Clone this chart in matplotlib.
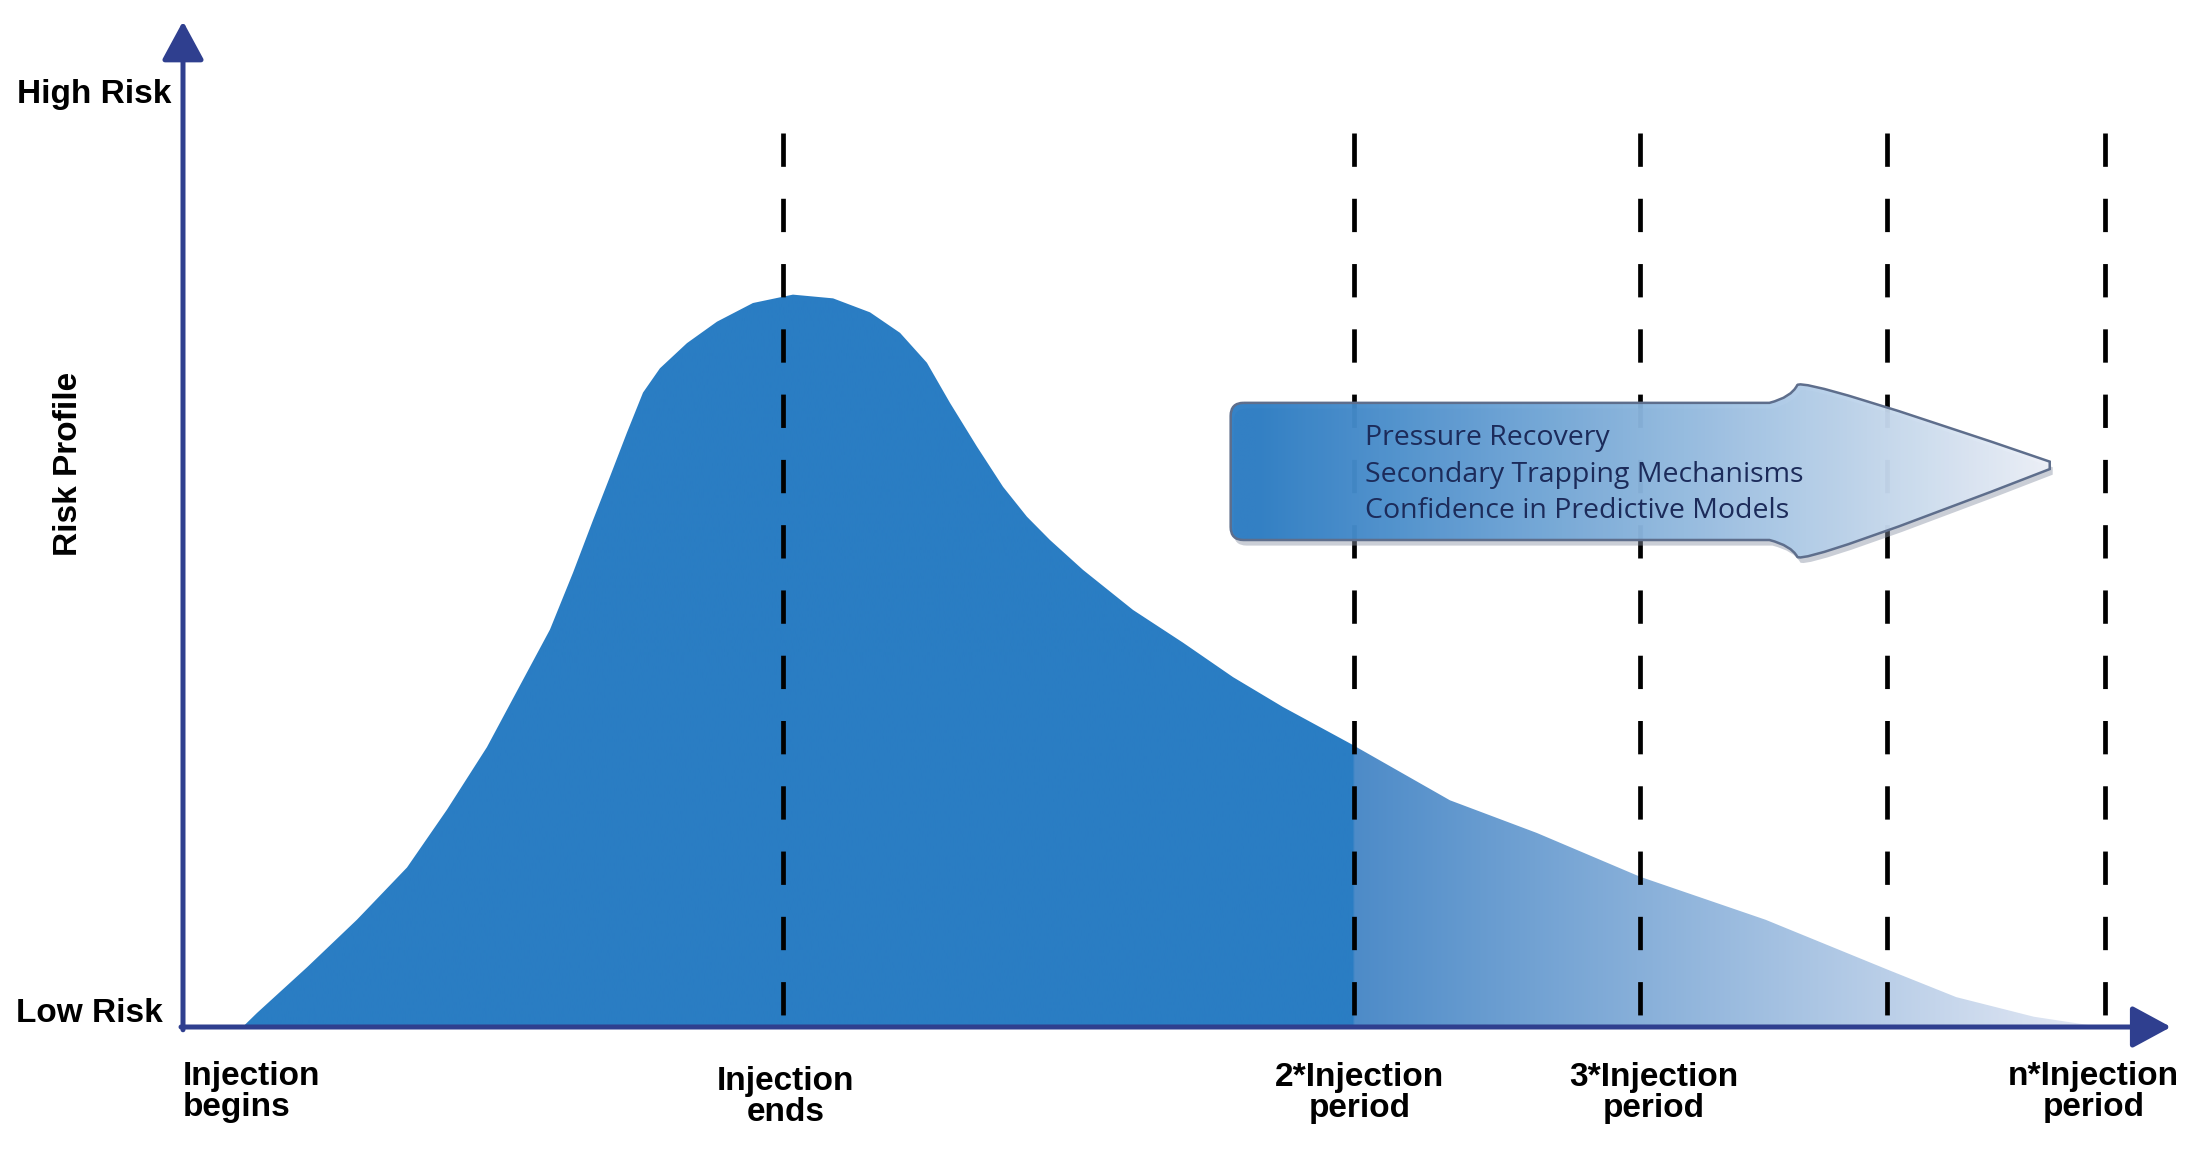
import numpy as np
import matplotlib
matplotlib.use("Agg")
import matplotlib.pyplot as plt
from matplotlib.path import Path
from matplotlib.patches import PathPatch, Polygon
from matplotlib.colors import to_rgb
from matplotlib.transforms import Affine2D

plt.rcParams["lines.scale_dashes"] = False

# ---------------------------------------------------------------- data
# time axis: 0 = injection begins, ~3 = injection ends (schematic, not linear)
curve_t = [0.30, 0.372, 0.624, 0.875, 1.127, 1.328, 1.529, 1.710, 1.846, 1.962, 2.062,
           2.148, 2.233, 2.314, 2.399, 2.535, 2.686, 2.867, 3.068, 3.270, 3.456, 3.607,
           3.742, 3.858, 3.994, 4.125, 4.245, 4.361, 4.527, 4.779, 5.030, 5.282, 5.533,
           5.870, 6.373, 6.81, 7.33, 7.96, 8.58, 8.92, 9.31, 9.65]
curve_risk = [0.0, 0.015, 0.064, 0.115, 0.171, 0.233, 0.300, 0.372, 0.426, 0.487, 0.543,
              0.590, 0.637, 0.680, 0.706, 0.733, 0.756, 0.776, 0.785, 0.781, 0.766, 0.744,
              0.712, 0.669, 0.622, 0.579, 0.547, 0.522, 0.490, 0.447, 0.412, 0.375, 0.343,
              0.304, 0.243, 0.208, 0.161, 0.115, 0.061, 0.032, 0.011, 0.0]

marker_t = [3.02, 5.89, 7.33, 8.57, 9.67]          # dashed period markers
label_t = [0.0, 3.03, 5.92, 7.40, 9.61]
label_y = [-0.036, -0.042, -0.038, -0.038, -0.036]
period_labels = ["Injection\nbegins", "Injection\nends", "2*Injection\nperiod",
                 "3*Injection\nperiod", "n*Injection\nperiod"]
risk_levels = [0.0, 1.0]
risk_labels = ["Low Risk", "High Risk"]
arrow_lines = ["Pressure Recovery", "Secondary Trapping Mechanisms",
               "Confidence in Predictive Models"]

# ---------------------------------------------------------------- style
C_BLUE = "#2a7dc3"
C_FADE0 = "#4d8bc8"
C_FADE1 = "#e6eaf5"
C_AXIS = "#2f3f8f"
C_TEXT_ARROW = "#1c2b5a"
FADE_START, FADE_END = 5.89, 9.65

fig = plt.figure(figsize=(22.03, 11.55), dpi=100)
ax = fig.add_axes([0, 0, 1, 1])
ax.set_xlim(-0.9205, 10.161)
ax.set_ylim(-0.1372, 1.1008)
ax.axis("off")

# ---------------------------------------------------------------- risk curve with fading tail
poly_xy = np.column_stack([curve_t + [curve_t[-1], curve_t[0]],
                           curve_risk + [0.0, 0.0]])
clip = Polygon(poly_xy, closed=True, facecolor="none", edgecolor="none")
ax.add_patch(clip)

gx = np.linspace(curve_t[0], curve_t[-1], 800)
c0, c1, cb = np.array(to_rgb(C_FADE0)), np.array(to_rgb(C_FADE1)), np.array(to_rgb(C_BLUE))
frac = np.clip((gx - FADE_START) / (FADE_END - FADE_START), 0, 1)[:, None]
cols = np.where(gx[:, None] <= FADE_START, cb, c0 + (c1 - c0) * frac)
img = ax.imshow(cols[None, :, :], extent=[curve_t[0], curve_t[-1], 0, max(curve_risk) + 0.01],
                aspect="auto", origin="lower", interpolation="bilinear", zorder=1)
img.set_clip_path(clip)

# ---------------------------------------------------------------- dashed period lines
for t in marker_t:
    ax.plot([t, t], [0.958, 0.0], color="black", lw=3.4, dashes=(24, 23),
            solid_capstyle="butt", dash_capstyle="butt", zorder=2)

# ---------------------------------------------------------------- big gradient arrow
L, S0, S1, X = 5.27, 7.98, 8.12, 9.39
T, B, HT, HB, M = 0.669, 0.522, 0.695, 0.497, 0.602
rx, ry = 0.065, 0.014
verts = [(L + rx, T), (S0, T), (S1 - 0.03, T + 0.006), (S1, HT - 0.007), (S1 + 0.03, HT + 0.002),
         (X, M + 0.004), (X, M - 0.004), (S1 + 0.03, HB - 0.002), (S1, HB + 0.007),
         (S1 - 0.03, B - 0.006), (S0, B), (L + rx, B), (L, B), (L, B + ry), (L, T - ry), (L, T),
         (L + rx, T)]
codes = [Path.MOVETO, Path.LINETO, Path.CURVE3, Path.CURVE3, Path.CURVE3, Path.CURVE3,
         Path.LINETO, Path.CURVE3, Path.CURVE3, Path.CURVE3, Path.CURVE3, Path.LINETO,
         Path.CURVE3, Path.CURVE3, Path.LINETO, Path.CURVE3, Path.CURVE3]
apath = Path(verts, codes)

shadow = PathPatch(apath.transformed(Affine2D().translate(0.015, -0.006)),
                   facecolor="#8a93a6", edgecolor="none", alpha=0.45, zorder=3)
ax.add_patch(shadow)
aclip = PathPatch(apath, facecolor="none", edgecolor="none")
ax.add_patch(aclip)
ax_g = np.linspace(L, X, 600)
af = np.clip((ax_g - 5.4) / (X - 5.4), 0, 1)[:, None]
a0, a1 = np.array(to_rgb("#2b7cc4")), np.array(to_rgb("#eef1f8"))
acols = a0 + (a1 - a0) * af
aimg = ax.imshow(acols[None, :, :], extent=[L, X, HB - 0.01, HT + 0.01], aspect="auto",
                 origin="lower", interpolation="bilinear", alpha=0.95, zorder=3.1)
aimg.set_clip_path(aclip)
ax.add_patch(PathPatch(apath, facecolor="none", edgecolor="#5e6e8c", lw=1.8, zorder=3.2))

for i, line in enumerate(arrow_lines):
    ax.text(5.946, 0.631 - 0.039 * i, line, fontsize=20.5, family="Open Sans",
            color=C_TEXT_ARROW, ha="left", va="center", zorder=4)

# ---------------------------------------------------------------- axes with arrowheads
arrow_kw = dict(arrowstyle="-|>,head_length=2.4,head_width=1.3", mutation_scale=10,
                lw=3.6, color=C_AXIS, shrinkA=0, shrinkB=0)
ax.annotate("", xy=(0, 1.078), xytext=(0, -0.003), arrowprops=arrow_kw, zorder=5)
ax.annotate("", xy=(10.0, 0), xytext=(-0.01, 0), arrowprops=arrow_kw, zorder=5)

# ---------------------------------------------------------------- labels
LBL = dict(family="Liberation Sans", fontweight="bold", color="black")
ax.text(-0.06, risk_levels[1], risk_labels[1], fontsize=24, ha="right", va="center", **LBL)
ax.text(-0.10, risk_levels[0] + 0.014, risk_labels[0], fontsize=24, ha="right", va="center", **LBL)
ax.text(-0.575, 0.604, "Risk Profile", fontsize=24, rotation=90, ha="center", va="center", **LBL)

for i, (t, y, lab) in enumerate(zip(label_t, label_y, period_labels)):
    ax.text(t, y, lab, fontsize=24, ha="left" if i == 0 else "center", va="top",
            multialignment="left" if i == 0 else "center", linespacing=1.0, **LBL)

fig.savefig("out.png", dpi=100)
